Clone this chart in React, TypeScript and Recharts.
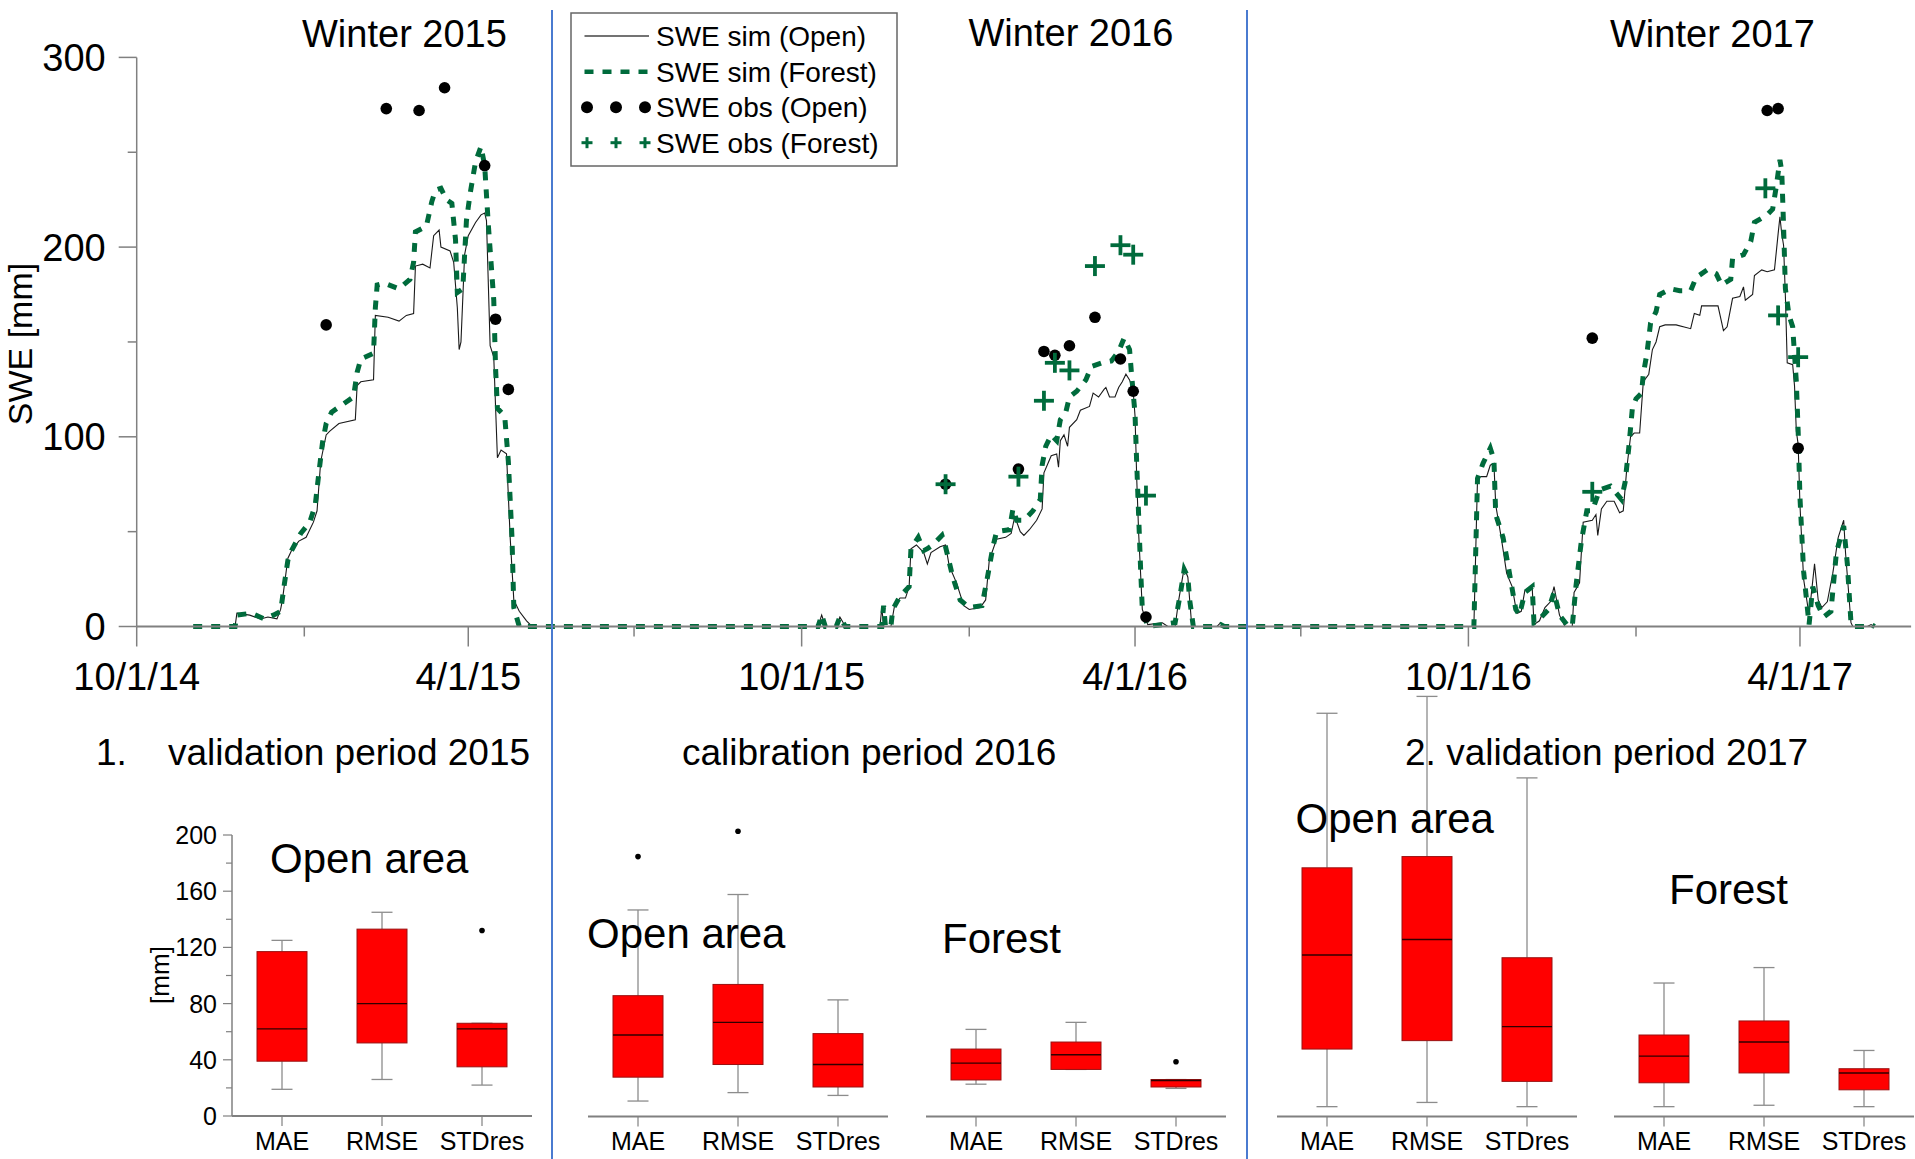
import React from "react";
import { ComposedChart, Line, Scatter, Bar, XAxis, YAxis } from "recharts";

const FONT = "'Liberation Sans', Arial, Helvetica, sans-serif";
const GREEN = "#006b3c";
const AXIS = "#808080";
const SEP = "#4a7bd0";

type Pt = [string, number];

// ---- SWE time series (mm) ----
const simOpen2015: Pt[] = [
  ["2014-11-01", 0], ["2014-11-24", 0], ["2014-11-25", 7], ["2014-12-02", 6], ["2014-12-08", 4],
  ["2014-12-12", 5], ["2014-12-17", 4], ["2014-12-19", 9], ["2014-12-20", 14], ["2014-12-23", 36],
  ["2014-12-25", 40], ["2014-12-29", 45], ["2015-01-02", 47], ["2015-01-06", 55], ["2015-01-08", 61],
  ["2015-01-10", 87], ["2015-01-13", 101], ["2015-01-15", 103], ["2015-01-20", 107], ["2015-01-29", 109],
  ["2015-01-30", 127], ["2015-02-01", 129], ["2015-02-08", 130], ["2015-02-09", 164], ["2015-02-16", 163],
  ["2015-02-22", 161], ["2015-02-26", 164], ["2015-03-02", 165], ["2015-03-03", 190], ["2015-03-07", 191],
  ["2015-03-11", 189], ["2015-03-13", 206], ["2015-03-16", 209], ["2015-03-17", 200], ["2015-03-22", 198],
  ["2015-03-24", 192], ["2015-03-26", 168], ["2015-03-27", 146], ["2015-03-28", 150], ["2015-03-30", 196],
  ["2015-04-01", 206], ["2015-04-05", 213], ["2015-04-08", 217], ["2015-04-10", 218], ["2015-04-11", 214],
  ["2015-04-13", 148], ["2015-04-15", 142], ["2015-04-17", 89], ["2015-04-19", 93], ["2015-04-22", 91],
  ["2015-04-24", 47], ["2015-04-26", 14], ["2015-04-29", 8], ["2015-05-03", 3], ["2015-05-06", 0],
];
const simOpen2016: Pt[] = [
  ["2015-10-10", 0], ["2015-10-12", 6], ["2015-10-14", 0], ["2015-10-20", 0], ["2015-10-22", 5],
  ["2015-10-25", 0], ["2015-11-13", 0], ["2015-11-14", 10], ["2015-11-15", 0], ["2015-11-19", 0],
  ["2015-11-21", 11], ["2015-11-24", 15], ["2015-11-27", 15], ["2015-11-29", 21], ["2015-11-30", 41],
  ["2015-12-03", 43], ["2015-12-07", 39], ["2015-12-09", 33], ["2015-12-11", 39], ["2015-12-16", 42],
  ["2015-12-19", 43], ["2015-12-21", 32], ["2015-12-25", 23], ["2015-12-29", 11], ["2016-01-01", 9],
  ["2016-01-07", 10], ["2016-01-10", 14], ["2016-01-12", 35], ["2016-01-16", 46], ["2016-01-21", 47],
  ["2016-01-24", 49], ["2016-01-26", 58], ["2016-01-29", 50], ["2016-01-31", 48], ["2016-02-03", 51],
  ["2016-02-07", 56], ["2016-02-10", 62], ["2016-02-11", 81], ["2016-02-15", 90], ["2016-02-18", 91],
  ["2016-02-19", 84], ["2016-02-20", 98], ["2016-02-22", 101], ["2016-02-24", 95], ["2016-02-25", 105],
  ["2016-02-29", 109], ["2016-03-02", 114], ["2016-03-07", 116], ["2016-03-09", 123], ["2016-03-12", 121],
  ["2016-03-15", 125], ["2016-03-16", 126], ["2016-03-18", 121], ["2016-03-21", 121], ["2016-03-23", 126],
  ["2016-03-25", 129], ["2016-03-27", 133], ["2016-03-29", 130], ["2016-03-31", 124], ["2016-04-01", 111],
  ["2016-04-02", 76], ["2016-04-03", 49], ["2016-04-05", 9], ["2016-04-08", 1], ["2016-04-16", 2],
  ["2016-04-19", 0], ["2016-04-23", 0], ["2016-04-25", 14], ["2016-04-28", 31], ["2016-04-30", 26],
  ["2016-05-02", 2], ["2016-05-04", 0], ["2016-05-16", 0], ["2016-05-18", 2], ["2016-05-20", 0],
];
const simOpen2017: Pt[] = [
  ["2016-10-04", 0], ["2016-10-06", 78], ["2016-10-08", 79], ["2016-10-11", 79], ["2016-10-13", 85],
  ["2016-10-15", 86], ["2016-10-16", 64], ["2016-10-19", 47], ["2016-10-22", 28], ["2016-10-25", 21],
  ["2016-10-27", 10], ["2016-10-28", 7], ["2016-10-30", 8], ["2016-11-01", 19], ["2016-11-05", 21],
  ["2016-11-06", 1], ["2016-11-09", 3], ["2016-11-12", 10], ["2016-11-15", 13], ["2016-11-17", 21],
  ["2016-11-20", 6], ["2016-11-23", 0], ["2016-11-27", 0], ["2016-11-28", 18], ["2016-12-01", 23],
  ["2016-12-03", 55], ["2016-12-08", 56], ["2016-12-10", 59], ["2016-12-11", 48], ["2016-12-13", 62],
  ["2016-12-16", 66], ["2016-12-20", 66], ["2016-12-23", 60], ["2016-12-25", 61], ["2016-12-27", 84],
  ["2016-12-29", 100], ["2016-12-31", 102], ["2017-01-03", 102], ["2017-01-05", 129], ["2017-01-08", 133],
  ["2017-01-10", 146], ["2017-01-12", 150], ["2017-01-14", 158], ["2017-01-17", 159], ["2017-01-23", 159],
  ["2017-01-31", 157], ["2017-02-02", 165], ["2017-02-05", 164], ["2017-02-06", 169], ["2017-02-15", 169],
  ["2017-02-18", 156], ["2017-02-20", 158], ["2017-02-23", 173], ["2017-02-27", 174], ["2017-03-01", 179],
  ["2017-03-02", 172], ["2017-03-06", 175], ["2017-03-07", 185], ["2017-03-11", 188], ["2017-03-14", 187],
  ["2017-03-18", 188], ["2017-03-20", 207], ["2017-03-21", 216], ["2017-03-22", 207], ["2017-03-23", 201],
  ["2017-03-24", 174], ["2017-03-25", 139], ["2017-03-28", 138], ["2017-03-29", 127], ["2017-03-30", 103],
  ["2017-03-31", 96], ["2017-04-01", 64], ["2017-04-03", 25], ["2017-04-06", 6], ["2017-04-09", 33],
  ["2017-04-11", 14], ["2017-04-13", 10], ["2017-04-16", 13], ["2017-04-19", 28], ["2017-04-22", 47],
  ["2017-04-25", 56], ["2017-04-26", 39], ["2017-04-29", 2], ["2017-04-30", 0], ["2017-05-08", 0],
  ["2017-05-10", 1], ["2017-05-12", 0],
];

const simForest2015: Pt[] = [
  ["2014-11-01", 0], ["2014-11-24", 0], ["2014-11-25", 6], ["2014-12-03", 7], ["2014-12-10", 4],
  ["2014-12-15", 6], ["2014-12-19", 8], ["2014-12-21", 22], ["2014-12-23", 35], ["2014-12-25", 40],
  ["2014-12-30", 49], ["2015-01-04", 55], ["2015-01-07", 64], ["2015-01-09", 81], ["2015-01-11", 97],
  ["2015-01-13", 107], ["2015-01-16", 113], ["2015-01-22", 117], ["2015-01-28", 121], ["2015-01-30", 134],
  ["2015-02-01", 141], ["2015-02-08", 144], ["2015-02-09", 168], ["2015-02-10", 180], ["2015-02-14", 181],
  ["2015-02-22", 178], ["2015-02-28", 183], ["2015-03-02", 192], ["2015-03-03", 208], ["2015-03-09", 211],
  ["2015-03-12", 224], ["2015-03-14", 230], ["2015-03-17", 231], ["2015-03-20", 225], ["2015-03-23", 223],
  ["2015-03-25", 204], ["2015-03-26", 176], ["2015-03-29", 178], ["2015-03-31", 214], ["2015-04-02", 228],
  ["2015-04-05", 245], ["2015-04-08", 253], ["2015-04-10", 243], ["2015-04-12", 212], ["2015-04-15", 172],
  ["2015-04-16", 136], ["2015-04-17", 115], ["2015-04-21", 111], ["2015-04-23", 87], ["2015-04-25", 47],
  ["2015-04-26", 10], ["2015-04-29", 0],
];
const simForest2016: Pt[] = [
  ["2015-10-10", 0], ["2015-10-12", 6], ["2015-10-14", 0], ["2015-10-20", 0], ["2015-10-22", 5],
  ["2015-10-25", 0], ["2015-11-14", 0], ["2015-11-15", 11], ["2015-11-16", 0], ["2015-11-19", 0],
  ["2015-11-20", 9], ["2015-11-24", 16], ["2015-11-29", 21], ["2015-11-30", 41], ["2015-12-04", 47],
  ["2015-12-07", 40], ["2015-12-09", 41], ["2015-12-12", 43], ["2015-12-17", 48], ["2015-12-19", 42],
  ["2015-12-23", 26], ["2015-12-27", 14], ["2016-01-01", 10], ["2016-01-08", 11], ["2016-01-11", 26],
  ["2016-01-14", 42], ["2016-01-16", 50], ["2016-01-23", 51], ["2016-01-25", 62], ["2016-01-27", 56],
  ["2016-01-31", 56], ["2016-02-05", 61], ["2016-02-09", 67], ["2016-02-10", 85], ["2016-02-12", 95],
  ["2016-02-15", 101], ["2016-02-18", 98], ["2016-02-20", 109], ["2016-02-23", 113], ["2016-02-25", 121],
  ["2016-02-29", 124], ["2016-03-05", 130], ["2016-03-08", 137], ["2016-03-14", 139], ["2016-03-19", 140],
  ["2016-03-23", 145], ["2016-03-26", 152], ["2016-03-29", 146], ["2016-03-30", 134], ["2016-04-01", 112],
  ["2016-04-02", 84], ["2016-04-03", 58], ["2016-04-04", 32], ["2016-04-05", 9], ["2016-04-08", 0],
  ["2016-04-16", 1], ["2016-04-23", 2], ["2016-04-26", 18], ["2016-04-28", 30], ["2016-04-30", 26],
  ["2016-05-01", 14], ["2016-05-03", 0], ["2016-05-16", 0], ["2016-05-18", 1], ["2016-05-20", 0],
];
const simForest2017: Pt[] = [
  ["2016-10-04", 0], ["2016-10-06", 78], ["2016-10-09", 86], ["2016-10-13", 94], ["2016-10-15", 88],
  ["2016-10-16", 59], ["2016-10-20", 47], ["2016-10-23", 31], ["2016-10-25", 20], ["2016-10-27", 9],
  ["2016-10-29", 6], ["2016-11-01", 18], ["2016-11-05", 21], ["2016-11-06", 2], ["2016-11-10", 5],
  ["2016-11-14", 9], ["2016-11-17", 18], ["2016-11-20", 6], ["2016-11-24", 1], ["2016-11-27", 0],
  ["2016-11-29", 21], ["2016-12-02", 45], ["2016-12-05", 61], ["2016-12-08", 61], ["2016-12-12", 72],
  ["2016-12-18", 74], ["2016-12-24", 67], ["2016-12-26", 76], ["2016-12-28", 94], ["2016-12-30", 115],
  ["2017-01-01", 120], ["2017-01-04", 123], ["2017-01-05", 133], ["2017-01-07", 144], ["2017-01-09", 160],
  ["2017-01-12", 166], ["2017-01-14", 175], ["2017-01-20", 178], ["2017-01-25", 177], ["2017-01-31", 177],
  ["2017-02-03", 184], ["2017-02-09", 188], ["2017-02-14", 186], ["2017-02-17", 180], ["2017-02-22", 183],
  ["2017-02-23", 194], ["2017-03-01", 196], ["2017-03-05", 203], ["2017-03-07", 213], ["2017-03-14", 217],
  ["2017-03-17", 220], ["2017-03-19", 232], ["2017-03-21", 246], ["2017-03-22", 240], ["2017-03-23", 211],
  ["2017-03-24", 178], ["2017-03-26", 164], ["2017-03-28", 158], ["2017-03-30", 129], ["2017-03-31", 103],
  ["2017-04-01", 68], ["2017-04-03", 29], ["2017-04-06", 1], ["2017-04-08", 21], ["2017-04-11", 11],
  ["2017-04-14", 5], ["2017-04-18", 8], ["2017-04-21", 39], ["2017-04-25", 53], ["2017-04-27", 33],
  ["2017-04-29", 2], ["2017-04-30", 0], ["2017-05-08", 0], ["2017-05-10", 1], ["2017-05-12", 0],
];

const obsOpenPts: Pt[] = [
  ["2015-01-13", 159], ["2015-02-15", 273], ["2015-03-05", 272], ["2015-03-19", 284], ["2015-04-10", 243],
  ["2015-04-16", 162], ["2015-04-23", 125],
  ["2015-12-19", 75], ["2016-01-28", 83], ["2016-02-11", 145], ["2016-02-17", 143], ["2016-02-25", 148],
  ["2016-03-10", 163], ["2016-03-24", 141], ["2016-03-31", 124], ["2016-04-07", 5],
  ["2016-12-08", 152], ["2017-03-14", 272], ["2017-03-20", 273], ["2017-03-31", 94],
];
const obsForestPts: Pt[] = [
  ["2015-12-19", 75], ["2016-01-28", 79], ["2016-02-11", 119], ["2016-02-17", 139], ["2016-02-25", 135],
  ["2016-03-10", 190], ["2016-03-24", 201], ["2016-03-31", 196], ["2016-04-07", 69],
  ["2016-12-08", 71], ["2017-03-13", 231], ["2017-03-20", 164], ["2017-03-31", 142],
];

const axisStart = "2014-10-01";
const axisEnd = "2017-06-01";
const quarterTicks = [
  "2014-10-01", "2015-01-01", "2015-04-01", "2015-07-01", "2015-10-01", "2016-01-01",
  "2016-04-01", "2016-07-01", "2016-10-01", "2017-01-01", "2017-04-01",
];
const sweTicks = [0, 50, 100, 150, 200, 250, 300];
const winterTitles = ["Winter 2015", "Winter 2016", "Winter 2017"];

// ---- goodness-of-fit statistics (mm) ----
type Stat = { name: string; lo: number; q1: number; med: number; q3: number; hi: number; out: number | null };
const statNames = ["MAE", "RMSE", "STDres"];
const valid2015Open: Stat[] = [
  { name: "MAE", lo: 19, q1: 39, med: 62, q3: 117, hi: 125, out: null },
  { name: "RMSE", lo: 26, q1: 52, med: 80, q3: 133, hi: 145, out: null },
  { name: "STDres", lo: 22, q1: 35, med: 62, q3: 66, hi: 66, out: 132 },
];
const calib2016Open: Stat[] = [
  { name: "MAE", lo: 11, q1: 28, med: 58, q3: 86, hi: 147, out: 185 },
  { name: "RMSE", lo: 17, q1: 37, med: 67, q3: 94, hi: 158, out: 203 },
  { name: "STDres", lo: 15, q1: 21, med: 37, q3: 59, hi: 83, out: null },
];
const calib2016Forest: Stat[] = [
  { name: "MAE", lo: 23, q1: 26, med: 38, q3: 48, hi: 62, out: null },
  { name: "RMSE", lo: 33.5, q1: 33.5, med: 44, q3: 53, hi: 67, out: null },
  { name: "STDres", lo: 20, q1: 21, med: 25.6, q3: 26.3, hi: 26.3, out: 39 },
];
const valid2017Open: Stat[] = [
  { name: "MAE", lo: 7, q1: 48, med: 115, q3: 177, hi: 287, out: null },
  { name: "RMSE", lo: 10, q1: 54, med: 126, q3: 185, hi: 299, out: null },
  { name: "STDres", lo: 7, q1: 25, med: 64, q3: 113, hi: 241, out: null },
];
const valid2017Forest: Stat[] = [
  { name: "MAE", lo: 7, q1: 24, med: 43, q3: 58, hi: 95, out: null },
  { name: "RMSE", lo: 8, q1: 31, med: 53, q3: 68, hi: 106, out: null },
  { name: "STDres", lo: 7, q1: 19, med: 31, q3: 34, hi: 47, out: null },
];
const mmTicks = [0, 20, 40, 60, 80, 100, 120, 140, 160, 180, 200];

const ts = (d: string) => {
  const [y, m, dd] = d.split("-").map(Number);
  return Date.UTC(y, m - 1, dd);
};
const toRows = (pts: Pt[]) => pts.map(([d, v]) => ({ t: ts(d), v }));

const simOpen = toRows([...simOpen2015, ...simOpen2016, ...simOpen2017]);
const simForest = toRows([...simForest2015, ...simForest2016, ...simForest2017]);
const obsOpen = toRows(obsOpenPts);
const obsForest = toRows(obsForestPts);

function DateTick({ x, y, payload }: any) {
  const d = new Date(payload.value);
  const m = d.getUTCMonth() + 1;
  const major = m === 10 || m === 4;
  const label = `${m}/${d.getUTCDate()}/${String(d.getUTCFullYear()).slice(2)}`;
  return (
    <g>
      <line x1={x} x2={x} y1={y} y2={y + (major ? 20 : 10)} stroke={AXIS} strokeWidth={1.5} />
      {major && (
        <text x={x} y={y + 63.5} textAnchor="middle" fontSize={38} fontFamily={FONT} fill="#000">
          {label}
        </text>
      )}
    </g>
  );
}

function SweTick({ x, y, payload }: any) {
  const major = payload.value % 100 === 0;
  return (
    <g>
      <line x1={x - (major ? 18 : 9)} x2={x} y1={y} y2={y} stroke={AXIS} strokeWidth={1.5} />
      {major && (
        <text x={x - 31} y={y} dy="0.36em" textAnchor="end" fontSize={38} fontFamily={FONT} fill="#000">
          {payload.value}
        </text>
      )}
    </g>
  );
}

function MmTick({ x, y, payload }: any) {
  const major = payload.value % 40 === 0;
  return (
    <g>
      <line x1={x - (major ? 9 : 6)} x2={x} y1={y} y2={y} stroke={AXIS} strokeWidth={1.2} />
      {major && (
        <text x={x - 15} y={y} dy="0.36em" textAnchor="end" fontSize={25} fontFamily={FONT} fill="#000">
          {payload.value}
        </text>
      )}
    </g>
  );
}

const ObsDot = (p: any) => <circle cx={p.cx} cy={p.cy} r={5.8} fill="#000" />;
const ObsPlus = (p: any) => (
  <g stroke={GREEN} strokeWidth={3.8}>
    <line x1={p.cx - 10} x2={p.cx + 10} y1={p.cy} y2={p.cy} />
    <line x1={p.cx} x2={p.cx} y1={p.cy - 10} y2={p.cy + 10} />
  </g>
);

// range bar [lo, hi] -> whiskers, box and median
function BoxShape(props: any) {
  const { x, y, width, height, payload } = props;
  const { lo, hi, q1, med, q3 } = payload as Stat;
  const top = Math.min(y, y + height);
  const bottom = Math.max(y, y + height);
  const py = (v: number) => (hi === lo ? bottom : bottom - ((v - lo) / (hi - lo)) * (bottom - top));
  const cx = x + width / 2;
  const cap = 10.5;
  return (
    <g>
      <g stroke="#8c8c8c" strokeWidth={1.3}>
        <line x1={cx} x2={cx} y1={py(hi)} y2={py(q3)} />
        <line x1={cx} x2={cx} y1={py(q1)} y2={py(lo)} />
        <line x1={cx - cap} x2={cx + cap} y1={py(hi)} y2={py(hi)} />
        <line x1={cx - cap} x2={cx + cap} y1={py(lo)} y2={py(lo)} />
      </g>
      <rect x={x} y={py(q3)} width={width} height={py(q1) - py(q3)} fill="#ff0000" stroke="#9a1010" strokeWidth={1} />
      <line x1={x} x2={x + width} y1={py(med)} y2={py(med)} stroke="#300000" strokeWidth={1.4} />
    </g>
  );
}

const PX_PER_MM = 1.405;
const BOX_BASE = 1116;
const BOX_TOP_PAD = 20;

function BoxPanel({ stats, left, yMax, withAxis }: { stats: Stat[]; left: number; yMax: number; withAxis?: boolean }) {
  const plotH = yMax * PX_PER_MM;
  const axisW = withAxis ? 110 : 0;
  const rows = stats.map((s) => ({ ...s, range: [s.lo, s.hi] }));
  return (
    <div style={{ position: "absolute", left: left - axisW, top: BOX_BASE - plotH - BOX_TOP_PAD }}>
      <ComposedChart
        width={axisW + 305}
        height={plotH + BOX_TOP_PAD + 45}
        data={rows}
        margin={{ top: BOX_TOP_PAD, right: 5, bottom: 5, left: 0 }}
      >
        <XAxis
          dataKey="name"
          type="category"
          ticks={statNames}
          interval={0}
          height={40}
          tickSize={10}
          tickMargin={6}
          tick={{ fontSize: 25, fill: "#000", fontFamily: FONT }}
          tickLine={{ stroke: AXIS, strokeWidth: 1.2 }}
          axisLine={{ stroke: AXIS, strokeWidth: 2 }}
        />
        <YAxis
          type="number"
          domain={[0, yMax]}
          hide={!withAxis}
          width={axisW}
          ticks={mmTicks}
          interval={0}
          tickSize={0}
          tickMargin={0}
          tickLine={false}
          tick={<MmTick />}
          axisLine={{ stroke: AXIS, strokeWidth: 1.5 }}
        />
        <Bar dataKey="range" barSize={50} shape={(p: any) => <BoxShape {...p} />} isAnimationActive={false} />
        <Line
          dataKey="out"
          stroke="none"
          dot={{ r: 2.8, fill: "#000", stroke: "none" }}
          activeDot={false}
          isAnimationActive={false}
        />
      </ComposedChart>
    </div>
  );
}

function SweChart() {
  return (
    <div style={{ position: "absolute", left: 0, top: 0 }}>
      <ComposedChart width={1915} height={700} margin={{ top: 57.4, right: 3.9, bottom: 13.5, left: 0 }}>
        <XAxis
          dataKey="t"
          type="number"
          domain={[ts(axisStart), ts(axisEnd)]}
          ticks={quarterTicks.map(ts)}
          interval={0}
          height={60}
          tickSize={0}
          tickMargin={0}
          tickLine={false}
          tick={<DateTick />}
          axisLine={{ stroke: AXIS, strokeWidth: 2 }}
          allowDataOverflow
        />
        <YAxis
          type="number"
          domain={[0, 300]}
          ticks={sweTicks}
          interval={0}
          width={136.7}
          tickSize={0}
          tickMargin={0}
          tickLine={false}
          tick={<SweTick />}
          axisLine={{ stroke: AXIS, strokeWidth: 1.5 }}
        />
        <Line data={simOpen} dataKey="v" stroke="#1a1a1a" strokeWidth={1.1} dot={false} activeDot={false} isAnimationActive={false} />
        <Line
          data={simForest}
          dataKey="v"
          stroke={GREEN}
          strokeWidth={5}
          strokeDasharray="9 9"
          dot={false}
          activeDot={false}
          isAnimationActive={false}
        />
        <Scatter data={obsOpen} dataKey="v" shape={ObsDot} isAnimationActive={false} />
        <Scatter data={obsForest} dataKey="v" shape={ObsPlus} isAnimationActive={false} />
      </ComposedChart>
    </div>
  );
}

function Overlay() {
  const legendX = 584.5;
  return (
    <svg
      width={1915}
      height={1159}
      style={{ position: "absolute", left: 0, top: 0, pointerEvents: "none" }}
      fontFamily={FONT}
      fill="#000"
    >
      <line x1={552} x2={552} y1={10} y2={1159} stroke={SEP} strokeWidth={2} />
      <line x1={1247} x2={1247} y1={10} y2={1159} stroke={SEP} strokeWidth={2} />

      <text x={302} y={47} fontSize={38}>{winterTitles[0]}</text>
      <text x={968.5} y={46} fontSize={38}>{winterTitles[1]}</text>
      <text x={1610} y={47} fontSize={38}>{winterTitles[2]}</text>
      <text transform="translate(32,344) rotate(-90)" textAnchor="middle" fontSize={34}>SWE [mm]</text>

      {/* legend */}
      <rect x={571} y={13} width={326} height={153} fill="#fff" stroke="#666" strokeWidth={1.5} />
      <line x1={legendX} x2={649} y1={36} y2={36} stroke="#444" strokeWidth={1.3} />
      <line x1={legendX} x2={649.5} y1={71.7} y2={71.7} stroke={GREEN} strokeWidth={4.5} strokeDasharray="9 9" />
      {[587, 616, 645].map((cx) => (
        <circle key={`d${cx}`} cx={cx} cy={107.3} r={6} fill="#000" />
      ))}
      {[587, 616, 645].map((cx) => (
        <g key={`p${cx}`} stroke={GREEN} strokeWidth={3}>
          <line x1={cx - 5.5} x2={cx + 5.5} y1={142.7} y2={142.7} />
          <line x1={cx} x2={cx} y1={137.2} y2={148.2} />
        </g>
      ))}
      <text x={656} y={46} fontSize={28}>SWE sim (Open)</text>
      <text x={656} y={81.7} fontSize={28}>SWE sim (Forest)</text>
      <text x={656} y={117.3} fontSize={28}>SWE obs (Open)</text>
      <text x={656} y={152.7} fontSize={28}>SWE obs (Forest)</text>

      {/* period titles */}
      <text x={96} y={765} fontSize={37}>1.</text>
      <text x={168} y={765} fontSize={37}>validation period 2015</text>
      <text x={682} y={765} fontSize={37}>calibration period 2016</text>
      <text x={1405} y={765} fontSize={37}>2. validation period 2017</text>

      <text x={270} y={873} fontSize={42}>Open area</text>
      <text x={587} y={948} fontSize={42}>Open area</text>
      <text x={942} y={953} fontSize={42}>Forest</text>
      <text x={1295.5} y={833} fontSize={42}>Open area</text>
      <text x={1669} y={904} fontSize={42}>Forest</text>
      <text transform="translate(169,975) rotate(-90)" textAnchor="middle" fontSize={26}>[mm]</text>
    </svg>
  );
}

export default function App() {
  return (
    <div style={{ position: "absolute", left: 0, top: 0, width: 1915, height: 1159, background: "#fff", fontFamily: FONT }}>
      <SweChart />
      <BoxPanel stats={valid2015Open} left={232} yMax={200} withAxis />
      <BoxPanel stats={calib2016Open} left={588} yMax={300} />
      <BoxPanel stats={calib2016Forest} left={926} yMax={300} />
      <BoxPanel stats={valid2017Open} left={1277} yMax={300} />
      <BoxPanel stats={valid2017Forest} left={1613.6} yMax={300} />
      <Overlay />
    </div>
  );
}
